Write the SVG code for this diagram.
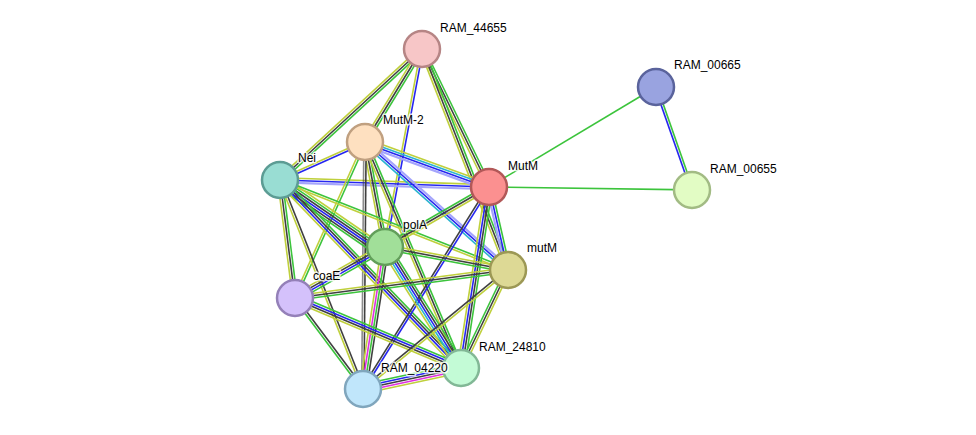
<svg xmlns="http://www.w3.org/2000/svg" width="976" height="435" viewBox="0 0 976 435">
<style>
line{stroke-width:1.6;fill:none}
.g{stroke:#3cc43c}.y{stroke:#bfd03c}.k{stroke:#404040}.b{stroke:#2626f0}.c{stroke:#2cb4d0}.m{stroke:#e030e0}.l{stroke:#a4a4fc;stroke-width:2.2}
circle{stroke-width:2.5}
text{font-family:"Liberation Sans",Arial,sans-serif;font-size:12px;fill:#000;stroke:#fff;stroke-width:3px;stroke-opacity:0.8;paint-order:stroke;stroke-linejoin:round}
</style>
<rect width="976" height="435" fill="#fff"/>
<g id="edges">
<g transform="translate(422 49) rotate(137.3)"><line x2="193.2" y1="-2.3" y2="-2.3" class="g"/><line x2="193.2" class="k"/><line x2="193.2" y1="2.3" y2="2.3" class="y"/></g>
<g transform="translate(422 49) rotate(121.5)"><line x2="109.1" y1="-2.3" y2="-2.3" class="g"/><line x2="109.1" class="k"/><line x2="109.1" y1="2.3" y2="2.3" class="y"/></g>
<g transform="translate(422 49) rotate(100.6)"><line x2="201.4" y1="-1.15" y2="-1.15" class="b"/><line x2="201.4" y1="1.15" y2="1.15" class="y"/></g>
<g transform="translate(422 49) rotate(64.1)"><line x2="153.4" y1="-2.3" y2="-2.3" class="g"/><line x2="153.4" class="k"/><line x2="153.4" y1="2.3" y2="2.3" class="y"/></g>
<g transform="translate(422 49) rotate(68.7)"><line x2="237.1" y1="-2.3" y2="-2.3" class="g"/><line x2="237.1" class="k"/><line x2="237.1" y1="2.3" y2="2.3" class="y"/></g>
<g transform="translate(365 142) rotate(155.9)"><line x2="93.1" y1="-1.15" y2="-1.15" class="b"/><line x2="93.1" y1="1.15" y2="1.15" class="y"/></g>
<g transform="translate(280 180) rotate(1.9)"><line x2="209.1" y1="-2.3" y2="-2.3" class="y"/><line x2="209.1" class="b"/><line x2="209.1" y1="2.3" y2="2.3" class="l"/></g>
<g transform="translate(365 142) rotate(19.9)"><line x2="131.9" y1="-3.45" y2="-3.45" class="y"/><line x2="131.9" y1="-1.15" y2="-1.15" class="c"/><line x2="131.9" y1="1.15" y2="1.15" class="b"/><line x2="131.9" y1="3.45" y2="3.45" class="l"/></g>
<g transform="translate(365 142) rotate(41.8)"><line x2="191.9" y1="-2.3" y2="-2.3" class="l"/><line x2="191.9" class="b"/><line x2="191.9" y1="2.3" y2="2.3" class="c"/></g>
<g transform="translate(365 142) rotate(79.2)"><line x2="106.9" y1="-2.3" y2="-2.3" class="g"/><line x2="106.9" class="k"/><line x2="106.9" y1="2.3" y2="2.3" class="y"/></g>
<g transform="translate(365 142) rotate(114.2)"><line x2="171" y1="-1.15" y2="-1.15" class="g"/><line x2="171" y1="1.15" y2="1.15" class="y"/></g>
<g transform="translate(365 142) rotate(90.5)"><line x2="247" y1="-1.15" y2="-1.15" class="k"/><line x2="247" y1="1.15" y2="1.15" class="k" stroke-opacity="0.6"/></g>
<g transform="translate(365 142) rotate(67)"><line x2="245.5" y1="-2.3" y2="-2.3" class="g"/><line x2="245.5" class="k"/><line x2="245.5" y1="2.3" y2="2.3" class="y"/></g>
<g transform="translate(280 180) rotate(34.5)"><line x2="124.6" y1="-4.6" y2="-4.6" class="y"/><line x2="124.6" y1="-2.3" y2="-2.3" class="g"/><line x2="124.6" class="k"/><line x2="124.6" y1="2.3" y2="2.3" class="b"/><line x2="124.6" y1="4.6" y2="4.6" class="k"/><line x2="124.6" y1="6.9" y2="6.9" class="g"/></g>
<g transform="translate(280 180) rotate(82.8)"><line x2="119" y1="-2.3" y2="-2.3" class="g"/><line x2="119" class="k"/><line x2="119" y1="2.3" y2="2.3" class="y"/></g>
<g transform="translate(280 180) rotate(68.3)"><line x2="224.9" y1="-1.15" y2="-1.15" class="k"/><line x2="224.9" y1="1.15" y2="1.15" class="y"/></g>
<g transform="translate(280 180) rotate(46.1)"><line x2="261" y1="-3.45" y2="-3.45" class="g"/><line x2="261" y1="-1.15" y2="-1.15" class="k"/><line x2="261" y1="1.15" y2="1.15" class="b"/><line x2="261" y1="3.45" y2="3.45" class="y"/></g>
<g transform="translate(280 180) rotate(21.5)"><line x2="245.1" y1="-1.15" y2="-1.15" class="g"/><line x2="245.1" y1="1.15" y2="1.15" class="y"/></g>
<g transform="translate(489 187) rotate(150)"><line x2="120.1" y1="-2.3" y2="-2.3" class="y"/><line x2="120.1" class="k"/><line x2="120.1" y1="2.3" y2="2.3" class="g"/></g>
<g transform="translate(489 187) rotate(77.1)"><line x2="85.1" y1="-2.3" y2="-2.3" class="g"/><line x2="85.1" class="b"/><line x2="85.1" y1="2.3" y2="2.3" class="l"/></g>
<g transform="translate(489 187) rotate(98.8)"><line x2="183.2" y1="-3.45" y2="-3.45" class="g"/><line x2="183.2" y1="-1.15" y2="-1.15" class="k"/><line x2="183.2" y1="1.15" y2="1.15" class="b"/><line x2="183.2" y1="3.45" y2="3.45" class="y"/></g>
<g transform="translate(489 187) rotate(122)"><line x2="238.1" y1="-1.15" y2="-1.15" class="b"/><line x2="238.1" y1="1.15" y2="1.15" class="k"/></g>
<g transform="translate(489 187) rotate(-30.9)"><line x2="194.7" class="g"/></g>
<g transform="translate(489 187) rotate(0.8)"><line x2="203" class="g"/></g>
<g transform="translate(656 87) rotate(70.7)"><line x2="109.1" y1="-1.15" y2="-1.15" class="g"/><line x2="109.1" y1="1.15" y2="1.15" class="b"/></g>
<g transform="translate(385 247) rotate(150.5)"><line x2="103.4" y1="-3.45" y2="-3.45" class="g"/><line x2="103.4" y1="-1.15" y2="-1.15" class="b"/><line x2="103.4" y1="1.15" y2="1.15" class="k"/><line x2="103.4" y1="3.45" y2="3.45" class="y"/></g>
<g transform="translate(385 247) rotate(10.6)"><line x2="125.1" y1="-2.3" y2="-2.3" class="y"/><line x2="125.1" class="k"/><line x2="125.1" y1="2.3" y2="2.3" class="g"/></g>
<g transform="translate(385 247) rotate(57.9)"><line x2="142.9" y1="-4.6" y2="-4.6" class="g"/><line x2="142.9" y1="-2.3" y2="-2.3" class="k"/><line x2="142.9" class="b"/><line x2="142.9" y1="2.3" y2="2.3" class="c"/><line x2="142.9" y1="4.6" y2="4.6" class="y"/></g>
<g transform="translate(385 247) rotate(98.8)"><line x2="143.7" y1="-3.45" y2="-3.45" class="k"/><line x2="143.7" y1="-1.15" y2="-1.15" class="g"/><line x2="143.7" y1="1.15" y2="1.15" class="m"/><line x2="143.7" y1="3.45" y2="3.45" class="y"/></g>
<g transform="translate(295 298) rotate(-7.5)"><line x2="214.8" y1="-2.3" y2="-2.3" class="y"/><line x2="214.8" class="k"/><line x2="214.8" y1="2.3" y2="2.3" class="g"/></g>
<g transform="translate(295 298) rotate(22.9)"><line x2="180.2" y1="-3.45" y2="-3.45" class="g"/><line x2="180.2" y1="-1.15" y2="-1.15" class="b"/><line x2="180.2" y1="1.15" y2="1.15" class="k"/><line x2="180.2" y1="3.45" y2="3.45" class="y"/></g>
<g transform="translate(295 298) rotate(53.2)"><line x2="113.6" y1="-1.15" y2="-1.15" class="k"/><line x2="113.6" y1="1.15" y2="1.15" class="g"/></g>
<g transform="translate(363 389) rotate(-12.1)"><line x2="100.2" y1="-4.6" y2="-4.6" class="g"/><line x2="100.2" y1="-2.3" y2="-2.3" class="b"/><line x2="100.2" class="k"/><line x2="100.2" y1="2.3" y2="2.3" class="m"/><line x2="100.2" y1="4.6" y2="4.6" class="y"/></g>
<g transform="translate(363 389) rotate(-39.4)"><line x2="187.6" y1="-1.15" y2="-1.15" class="k"/><line x2="187.6" y1="1.15" y2="1.15" class="y"/></g>
<g transform="translate(461 368) rotate(-64.4)"><line x2="108.7" y1="-2.3" y2="-2.3" class="g"/><line x2="108.7" class="k"/><line x2="108.7" y1="2.3" y2="2.3" class="y"/></g>
</g>
<g id="n-RAM_44655"><circle cx="422" cy="49" r="18" fill="#f7c6c7" stroke="#b68585"/><text x="440" y="32">RAM_44655</text></g>
<g id="n-RAM_00665"><circle cx="656" cy="87" r="18" fill="#99a3e0" stroke="#5a639c"/><text x="674" y="69">RAM_00665</text></g>
<g id="n-MutM-2"><circle cx="365" cy="142" r="18" fill="#fee0c0" stroke="#c0a080"/><text x="383" y="124">MutM-2</text></g>
<g id="n-Nei"><circle cx="280" cy="180" r="18" fill="#99ddd3" stroke="#5c9c94"/><text x="298" y="162">Nei</text></g>
<g id="n-MutM"><circle cx="489" cy="187" r="18" fill="#fb9090" stroke="#b25858"/><text x="508" y="170">MutM</text></g>
<g id="n-RAM_00655"><circle cx="692" cy="190" r="18" fill="#e2fcc4" stroke="#a2bb84"/><text x="710" y="173">RAM_00655</text></g>
<g id="n-polA"><circle cx="385" cy="247" r="18" fill="#a1df99" stroke="#629e5a"/><text x="403" y="229">polA</text></g>
<g id="n-mutM"><circle cx="508" cy="270" r="18" fill="#ddd995" stroke="#9c9855"/><text x="527" y="252">mutM</text></g>
<g id="n-coaE"><circle cx="295" cy="298" r="18" fill="#d4c1fb" stroke="#9480b8"/><text x="313" y="280">coaE</text></g>
<g id="n-RAM_24810"><circle cx="461" cy="368" r="18" fill="#c3fbd6" stroke="#82b896"/><text x="479" y="351">RAM_24810</text></g>
<g id="n-RAM_04220"><circle cx="363" cy="389" r="18" fill="#c0e6fb" stroke="#80a6bd"/><text x="381" y="372">RAM_04220</text></g>
</svg>
